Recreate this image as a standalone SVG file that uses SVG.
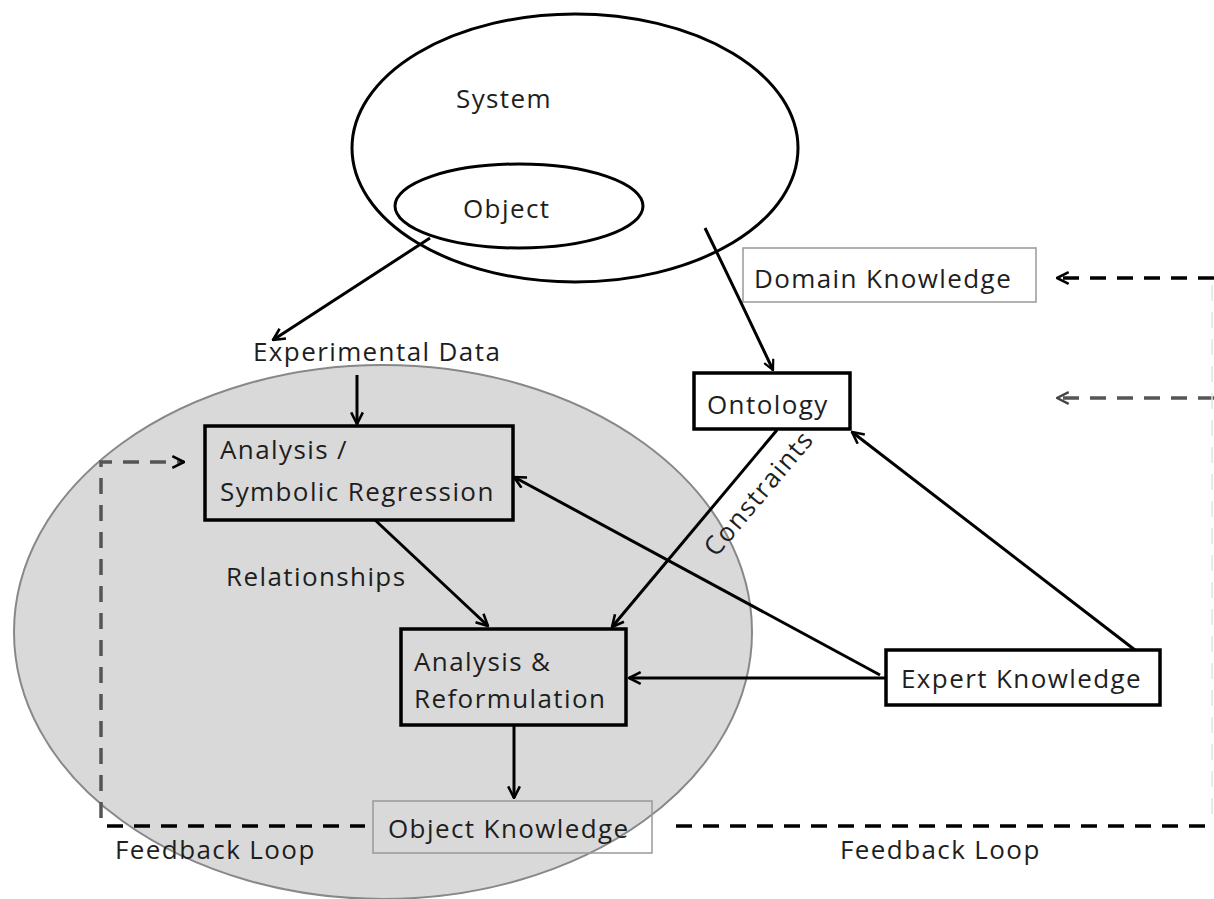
<svg xmlns="http://www.w3.org/2000/svg" width="1214" height="899" viewBox="0 0 1214 899">
<defs>
<marker id="ah" viewBox="0 0 12 12" refX="11" refY="6" markerWidth="12" markerHeight="12" markerUnits="userSpaceOnUse" orient="auto">
<path d="M1,1 L11,6 L1,11" fill="none" stroke="#000" stroke-width="2.2"/>
</marker>
<marker id="ah2" viewBox="0 0 12 12" refX="11" refY="6" markerWidth="14" markerHeight="14" markerUnits="userSpaceOnUse" orient="auto">
<path d="M1,1 L11,6 L1,11" fill="none" stroke="#000" stroke-width="2.2"/>
</marker>
<marker id="ahg" viewBox="0 0 12 12" refX="11" refY="6" markerWidth="14" markerHeight="14" markerUnits="userSpaceOnUse" orient="auto">
<path d="M1,1 L11,6 L1,11" fill="none" stroke="#444" stroke-width="2"/>
</marker>
</defs>
<style>
text{font-family:"Open Sans","Liberation Sans",sans-serif;font-size:26px;letter-spacing:1.4px;fill:#1e1e1e}
.box{fill:none;stroke:#000;stroke-width:3.5}
.lbox{fill:none;stroke:#999;stroke-width:1.5}
.con{fill:none;stroke:#000;stroke-width:3}
.dash{fill:none;stroke:#000;stroke-width:3.5;stroke-dasharray:16 11}
.gdash{fill:none;stroke:#555;stroke-width:3.5;stroke-dasharray:16 11}
</style>
<rect width="1214" height="899" fill="#fff"/>
<g id="scope">
<ellipse cx="383" cy="632" rx="369" ry="267" fill="#d9d9d9" stroke="#888" stroke-width="2"/>
</g>
<g id="system">
<ellipse cx="575" cy="148" rx="223" ry="134" fill="none" stroke="#000" stroke-width="3"/>
<text x="456" y="108">System</text>
</g>
<g id="object">
<ellipse cx="519" cy="206" rx="124" ry="42" fill="none" stroke="#000" stroke-width="3"/>
<text x="463" y="218">Object</text>
</g>
<g id="experimental-data">
<text x="253" y="361">Experimental Data</text>
</g>
<g id="analysis-sr">
<rect class="box" x="205" y="426" width="308" height="94"/>
<text x="220" y="459">Analysis /</text>
<text x="220" y="501">Symbolic Regression</text>
</g>
<g id="relationships">
<text x="226" y="586">Relationships</text>
</g>
<g id="analysis-ref">
<rect class="box" x="401" y="629" width="225" height="96"/>
<text x="414" y="671">Analysis &amp;</text>
<text x="414" y="708">Reformulation</text>
</g>
<g id="object-knowledge">
<rect class="lbox" x="373" y="801" width="279" height="52"/>
<text x="388" y="838">Object Knowledge</text>
</g>
<g id="domain-knowledge">
<rect class="lbox" x="743" y="248" width="293" height="54" fill="#fff"/>
<text x="754" y="288">Domain Knowledge</text>
</g>
<g id="ontology">
<rect class="box" x="694" y="373" width="156" height="56" fill="#fff"/>
<text x="707" y="414">Ontology</text>
</g>
<g id="expert-knowledge">
<rect class="box" x="886" y="650" width="274" height="55" fill="#fff"/>
<text x="901" y="688">Expert Knowledge</text>
</g>
<g id="constraints-label">
<text x="0" y="0" transform="translate(716,558) rotate(-50)">Constraints</text>
</g>
<g id="connectors">
<path class="con" d="M430,238 L273,340" marker-end="url(#ah2)"/>
<path class="con" d="M357,375 L357,424" marker-end="url(#ah2)"/>
<path class="con" d="M705,228 Q740,300 773,370" marker-end="url(#ah)"/>
<path class="con" d="M375,520 L488,626" marker-end="url(#ah2)"/>
<path class="con" d="M777,430 L612,627" marker-end="url(#ah2)"/>
<path class="con" d="M886,678 L629,678" marker-end="url(#ah2)"/>
<path class="con" d="M880,675 L514,477" marker-end="url(#ah2)"/>
<path class="con" d="M1135,650 L852,432" marker-end="url(#ah2)"/>
<path class="con" d="M514,725 L514,798" marker-end="url(#ah2)"/>
<path class="dash" d="M1214,278 L1057,278" marker-end="url(#ah2)"/>
<path class="gdash" d="M1214,398 L1057,398" marker-end="url(#ahg)"/>
<path class="dash" d="M107,826 L365,826"/>
<path class="dash" d="M676,826 L1214,826"/>
<path class="gdash" d="M101,818 L101,462 L184,462" marker-end="url(#ah2)"/>
<path fill="none" stroke="#e2e2e2" stroke-width="1.5" stroke-dasharray="16 11" d="M1212,285 L1212,820"/>
</g>
<g id="feedback-labels">
<text x="115" y="859">Feedback Loop</text>
<text x="840" y="859">Feedback Loop</text>
</g>
</svg>
